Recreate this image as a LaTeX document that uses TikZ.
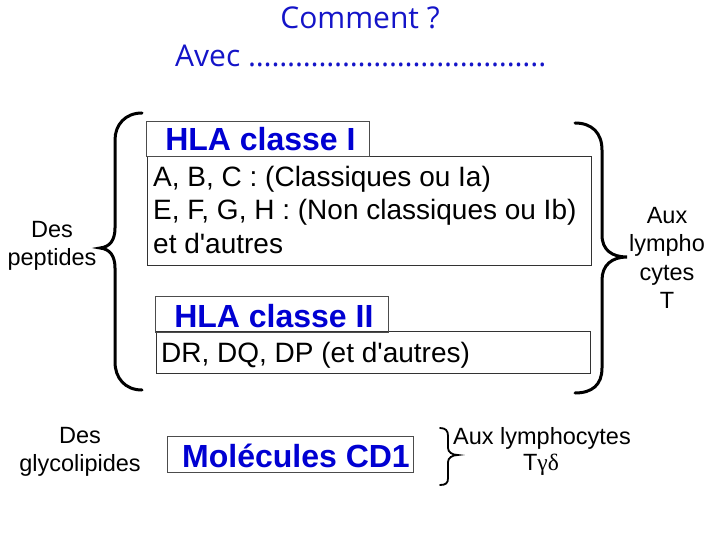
\documentclass[tikz,border=0pt]{standalone}
\usepackage{fontspec}
\setmainfont{Liberation Sans}[Ligatures=TeXOff]
\newfontfamily\titlefont{Open Sans}
\newfontfamily\greekfont{Liberation Serif}
\definecolor{tblue}{RGB}{20,20,200}
\definecolor{hblue}{RGB}{0,0,210}
\tikzset{
  title/.style={text=tblue, font=\titlefont\fontsize{30}{36}\selectfont, inner sep=0pt},
  hdr/.style={draw=black!70, line width=0.6pt, text=hblue, font=\bfseries\fontsize{32}{36}\selectfont, inner sep=0pt},
  body/.style={font=\fontsize{28}{32}\selectfont, inner sep=0pt},
  lbl/.style={font=\fontsize{23.5}{28.5}\selectfont, inner sep=0pt, align=center},
  bx/.style={draw=black!80, line width=0.6pt},
  brace/.style={line width=3pt, line cap=round},
}
\begin{document}
\begin{tikzpicture}[x=1pt,y=-1pt]
\useasboundingbox (0,0) rectangle (720,540);
% titles
\node[title] (t1) at (360,18) {Comment ?};
\node[title, anchor=base west] (t2) at (175,67) {Avec ………………………………..};
% HLA classe I
\draw[bx] (147,156) rectangle (591,265);
\draw[hdr] (146,121) rectangle (369,156);
\node[hdr, draw=none, anchor=base west] (h1) at (165,151) {HLA classe I};
\node[body, anchor=base west] (c1a) at (153,187) {A, B, C : (Classiques ou Ia)};
\node[body, anchor=base west] (c1b) at (153,220) {E, F, G, H : (Non classiques ou Ib)};
\node[body, anchor=base west] (c1c) at (153,253) {et d'autres};
% HLA classe II
\draw[bx] (156,331) rectangle (590,373);
\draw[hdr] (155,296) rectangle (388,332);
\node[hdr, draw=none, anchor=base west] (h2) at (174,327) {HLA classe II};
\node[body, anchor=base west] (c2) at (161,362) {DR, DQ, DP (et d'autres)};
% CD1
\draw[hdr] (167,436) rectangle (413,472);
\node[hdr, draw=none, anchor=base] (h3) at (296,467) {Molécules CD1};
% labels
\node[lbl] (l1) at (52,246) {Des\\peptides};
\node[lbl] (l2) at (667,258) {Aux\\lympho\\cytes\\T};
\node[lbl] (l3) at (80,452) {Des\\glycolipides};
\node[lbl, anchor=west] (l4) at (453,438) {Aux lymphocytes};
\node[lbl] (l5) at (541,465) {T{\greekfont γδ}};
% braces
\draw[brace] (142,113) .. controls (125,113) and (115,125) .. (115,140) -- (115,228)
  .. controls (115,240) and (110,247) .. (100,248)
  .. controls (110,249) and (115,256) .. (115,268) -- (115,362)
  .. controls (115,378) and (125,390) .. (142,390);
\draw[brace] (575,123) .. controls (592,123) and (602,133) .. (602,150) -- (602,235)
  .. controls (602,250) and (612,257) .. (627,257)
  .. controls (612,257) and (602,265) .. (602,280) -- (602,368)
  .. controls (602,385) and (592,393) .. (575,393);
\draw[line width=1.8pt, line cap=round] (440,428) .. controls (446,428) and (448,431) .. (448,436) -- (448,448)
  .. controls (448,452) and (452,455) .. (458,455)
  .. controls (452,455) and (448,458) .. (448,462) -- (448,478)
  .. controls (448,483) and (446,485) .. (440,485);
\end{tikzpicture}
\end{document}
